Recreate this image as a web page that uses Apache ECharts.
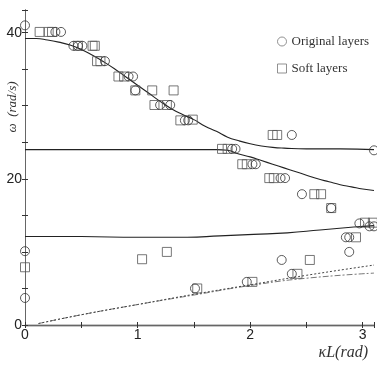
<!DOCTYPE html>
<html><head><meta charset="utf-8">
<script src="https://cdn.jsdelivr.net/npm/echarts@6/dist/echarts.min.js"></script>
<style>html,body{margin:0;padding:0;background:#fff}#c{width:377px;height:365px}</style>
</head><body><div id="c"></div>
<script>
// ---- data (κL in rad, ω in rad/s) ----
const originalLayers = [
  [0,41.0],[0.27,40.1],[0.32,40.1],
  [0.43,38.2],[0.47,38.2],[0.51,38.2],
  [0.71,36.1],
  [0.92,34.0],[0.96,34.0],
  [0.98,32.1],
  [1.20,30.1],[1.29,30.1],
  [1.42,28.0],[1.45,28.0],
  [2.37,26.0],
  [3.10,23.9],
  [1.84,24.1],[1.87,24.1],
  [2.02,22.0],[2.05,22.0],
  [2.27,20.1],[2.31,20.1],
  [2.46,17.9],
  [2.72,16.0],
  [2.97,13.9],[3.06,13.5],[3.10,13.5],
  [2.85,12.0],[2.88,12.0],
  [2.88,10.0],
  [2.28,8.9],
  [2.37,7.0],
  [1.97,5.9],
  [1.51,5.0],
  [0,10.1],[0,3.7]
];
const softLayers = [
  [0.13,40.1],[0.21,40.1],[0.24,40.1],
  [0.47,38.2],[0.60,38.2],[0.62,38.2],
  [0.64,36.1],[0.67,36.1],
  [0.83,34.0],[0.88,34.0],
  [0.98,32.1],[1.13,32.1],[1.32,32.1],
  [1.15,30.1],[1.26,30.1],
  [1.38,28.0],[1.49,28.1],
  [2.20,26.0],[2.24,26.0],
  [1.75,24.1],[1.80,24.1],
  [1.93,22.0],[1.97,22.0],
  [2.17,20.1],[2.21,20.1],
  [2.57,17.9],[2.63,17.9],
  [2.72,16.0],
  [3.02,14.0],[3.09,14.0],
  [2.94,12.0],
  [2.53,8.9],
  [2.42,7.0],
  [2.02,5.9],
  [1.53,5.0],
  [0,7.9],
  [1.04,9.0],[1.26,10.0]
];
const branch1 = [[0,39.2],[0.1,39.2],[0.2,39.0],[0.3,38.7],[0.4,38.3],[0.5,37.7],[0.6,36.9],[0.7,36.0],[0.8,35.0],[0.9,33.9],[1.0,32.8],[1.1,31.7],[1.2,30.6],[1.3,29.6],[1.4,28.8],[1.5,28.1],[1.6,27.2],[1.7,26.5],[1.8,25.7],[1.9,25.2],[2.0,24.8],[2.1,24.5],[2.2,24.3],[2.3,24.2],[2.5,24.1],[2.8,24.1],[3.1,24.0]];
const branch2 = [[0,24.0],[0.5,24.0],[1.0,24.0],[1.5,24.0],[1.7,24.0],[1.8,23.9],[1.9,23.4],[2.0,23.0],[2.1,22.5],[2.2,22.0],[2.3,21.5],[2.4,21.0],[2.5,20.5],[2.6,20.0],[2.7,19.6],[2.8,19.2],[2.9,18.9],[3.0,18.6],[3.1,18.4]];
const branch3 = [[0,12.1],[0.5,12.1],[1.0,12.0],[1.44,12.0],[1.73,12.2],[2.03,12.4],[2.33,12.6],[2.62,13.0],[2.92,13.4],[3.1,13.6]];
const acousticDashed = [[0.12,0.2],[0.5,1.4],[1.0,2.8],[1.5,4.1],[2.0,5.4],[2.5,6.4],[3.1,7.1]];
const acousticDotted = [[0.12,0.2],[0.5,1.4],[1.0,2.8],[1.5,4.2],[2.0,5.5],[2.5,6.8],[3.1,8.2]];
const xTickLabels = [0,1,2,3];
const yTickLabels = [0,20,40];
const legendNames = ['Original layers','Soft layers'];

const chart = echarts.init(document.getElementById('c'));
const axisCommon = {
  type:'value',
  axisLine:{show:true,lineStyle:{color:'#333',width:1}},
  axisTick:{show:true,inside:true,length:3,lineStyle:{color:'#333'}},
  splitLine:{show:false}
};
const lineS = (data, color, type, w) => ({
  type:'line', data, smooth:true, symbol:'none', silent:true,
  lineStyle:{color, width:w||1, type:type||'solid'}, z:2
});
chart.setOption({
  animation:false,
  backgroundColor:'#fff',
  grid:{left:25,right:3,top:10,bottom:40,containLabel:false},
  legend:{
    orient:'vertical', left:272, top:30, itemWidth:9, itemHeight:9, itemGap:14,
    itemStyle:{borderWidth:1,borderColor:'#777',color:'rgba(255,255,255,0)'},
    textStyle:{fontFamily:'Liberation Serif',fontSize:13,color:'#333'},
    data:legendNames
  },
  xAxis:[
    Object.assign({},axisCommon,{min:0,max:3.1,interval:0.5,position:'bottom',
      axisLine:{show:true,lineStyle:{color:'#222',width:1.3}},
      axisLabel:{margin:3,fontFamily:'Liberation Sans',fontSize:14,color:'#222',
        formatter:v=>{const r=Math.round(v);return (Math.abs(v-r)<1e-6 && xTickLabels.includes(r))?String(r):'';}}}),
    Object.assign({},axisCommon,{min:0,max:3.1,interval:0.5,position:'top',axisLabel:{show:false},
      axisLine:{show:true,lineStyle:{color:'#666',width:1}}})
  ],
  yAxis:[
    Object.assign({},axisCommon,{min:0,max:43.1,interval:5,position:'left',
      axisLabel:{margin:3,fontFamily:'Liberation Sans',fontSize:14,color:'#222',
        formatter:v=>{const r=Math.round(v);return (Math.abs(v-r)<1e-6 && yTickLabels.includes(r))?String(r):'';}}}),
    Object.assign({},axisCommon,{min:0,max:43.1,interval:5,position:'right',axisLabel:{show:false},
      axisLine:{show:true,lineStyle:{color:'#666',width:1}}})
  ],
  graphic:[
    {type:'text',x:13,y:107,rotation:Math.PI/2,
      style:{text:'ω  (rad/s)',font:'italic 13px "Liberation Serif"',fill:'#333',textAlign:'center',textVerticalAlign:'middle'}},
    {type:'text',x:368,y:353,
      style:{text:'κL(rad)',font:'italic 16px "Liberation Serif"',fill:'#333',textAlign:'right',textVerticalAlign:'middle'}}
  ],
  series:[
    lineS(branch1,'#222','solid',1.1),
    lineS(branch2,'#222','solid',1.1),
    lineS(branch3,'#222','solid',1.1),
    lineS(acousticDashed,'#777',[6,2,2,2],1),
    lineS(acousticDotted,'#444',[2,2],1),
    {name:legendNames[0],type:'scatter',data:originalLayers,symbol:'circle',symbolSize:9,z:5,
      itemStyle:{color:'rgba(255,255,255,0)',borderColor:'#333',borderWidth:1}},
    {name:legendNames[1],type:'scatter',data:softLayers,symbol:'rect',symbolSize:9,z:4,
      itemStyle:{color:'rgba(255,255,255,0)',borderColor:'#555',borderWidth:1}}
  ]
});
</script></body></html>
